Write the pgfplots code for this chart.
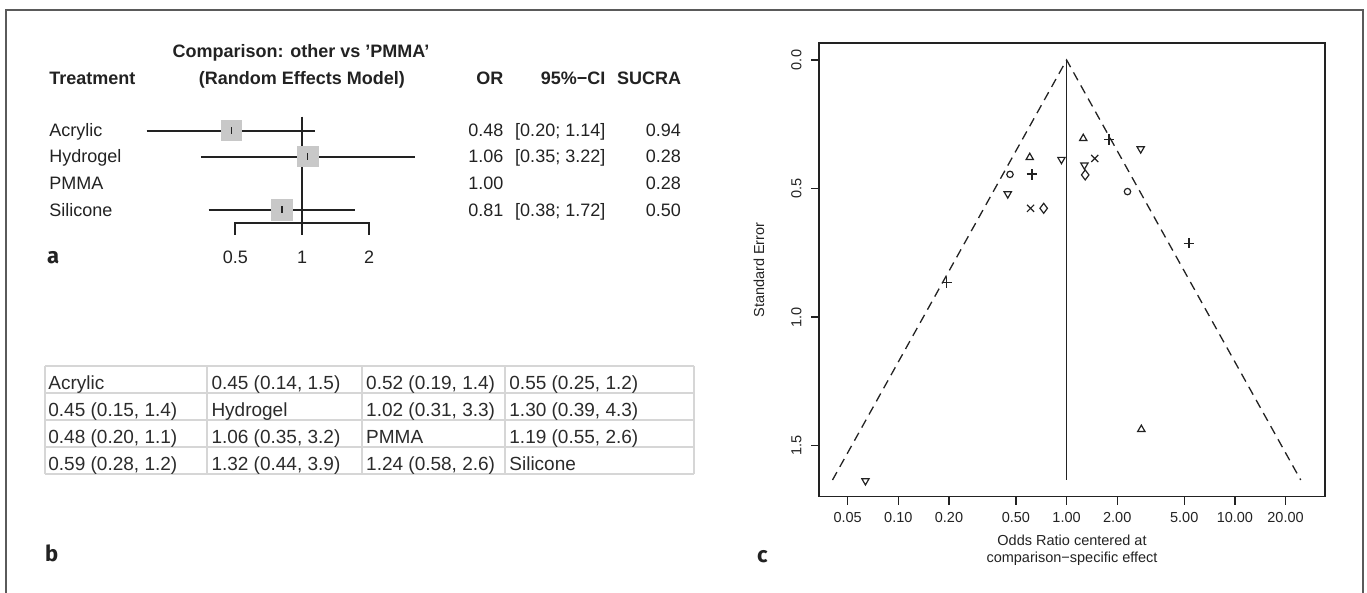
\documentclass[border=0pt]{standalone}
\usepackage{pgfplots}
\pgfplotsset{compat=1.18}
\usepackage{fontspec}
\setmainfont{Liberation Sans}
\newfontfamily\labfont{Fira Sans}
\definecolor{framecol}{HTML}{5A5A5A}
\definecolor{ink}{HTML}{222222}
\definecolor{sq}{HTML}{C8C8C8}
\definecolor{gridc}{HTML}{D6D6D6}
\definecolor{tabtext}{HTML}{2B2B2B}
\newcommand{\fa}{\fontsize{18}{21}\selectfont}
\newcommand{\fb}{\fontsize{19}{22}\selectfont}
\newcommand{\fc}{\fontsize{14.5}{17}\selectfont}
\newcommand{\fl}{\labfont\bfseries\fontsize{22}{24}\selectfont}
\begin{document}
\begin{tikzpicture}
\useasboundingbox (0,0) rectangle (1367pt,593pt);
\begin{scope}[x=1pt,y=-1pt,yshift=593pt]
% outer frame
\draw[framecol, line width=2pt] (6,593) -- (6,10) -- (1363.3,10) -- (1363.3,593);
% panel a text
\begin{scope}[every node/.style={inner sep=0pt, text=ink}]
\node[anchor=base] at (301,57.3) {\fa\bfseries Comparison: other vs ’PMMA’};
\node[anchor=base west] at (49.1,85) {\fa\bfseries Treatment};
\node[anchor=base] at (301.8,85) {\fa\bfseries (Random Effects Model)};
\node[anchor=base east] at (503.5,85) {\fa\bfseries OR};
\node[anchor=base east] at (605.5,85) {\fa\bfseries 95\%−CI};
\node[anchor=base east] at (681.2,85) {\fa\bfseries SUCRA};
\node[anchor=base west] at (49.1,136.7) {\fa Acrylic};
\node[anchor=base west] at (49.1,162.9) {\fa Hydrogel};
\node[anchor=base west] at (49.1,189.4) {\fa PMMA};
\node[anchor=base west] at (49.1,216.1) {\fa Silicone};
\node[anchor=base east] at (503.5,136.7) {\fa 0.48};
\node[anchor=base east] at (503.5,162.9) {\fa 1.06};
\node[anchor=base east] at (503.5,189.4) {\fa 1.00};
\node[anchor=base east] at (503.5,216.1) {\fa 0.81};
\node[anchor=base east] at (605.5,136.7) {\fa [0.20; 1.14]};
\node[anchor=base east] at (605.5,162.9) {\fa [0.35; 3.22]};
\node[anchor=base east] at (605.5,216.1) {\fa [0.38; 1.72]};
\node[anchor=base east] at (681.2,136.7) {\fa 0.94};
\node[anchor=base east] at (681.2,162.9) {\fa 0.28};
\node[anchor=base east] at (681.2,189.4) {\fa 0.28};
\node[anchor=base east] at (681.2,216.1) {\fa 0.50};
\node[anchor=base] at (235.3,263.3) {\fa 0.5};
\node[anchor=base] at (302.2,263.3) {\fa 1};
\node[anchor=base] at (369.2,263.3) {\fa 2};
\node[anchor=base west] at (47,263.3) {\fl a};
\node[anchor=base west] at (45,561.7) {\fl b};
\node[anchor=base west] at (757,562.7) {\fl c};
% panel c labels
\node[anchor=base] at (1072,546) {\fc Odds Ratio centered at};
\node[anchor=base] at (1072,562.5) {\fc comparison−specific effect};
\node[rotate=90] at (759,270) {\fc Standard Error};
\end{scope}
% panel b table
\foreach \yy in {366,392.7,420,447.3,474.3} \draw[gridc, line width=2pt] (45.2,\yy) -- (693.5,\yy);
\foreach \xx in {45.2,206.9,361.7,504.8,693.5} \draw[gridc, line width=2pt] (\xx,366) -- (\xx,474.3);
\begin{scope}[every node/.style={inner sep=0pt, anchor=base west, text=tabtext}]
\node at (48.2,389.3) {\fb Acrylic};
\node at (211.3,389.3) {\fb 0.45 (0.14, 1.5)};
\node at (366,389.3) {\fb 0.52 (0.19, 1.4)};
\node at (509.2,389.3) {\fb 0.55 (0.25, 1.2)};
\node at (48.2,416.3) {\fb 0.45 (0.15, 1.4)};
\node at (211.3,416.3) {\fb Hydrogel};
\node at (366,416.3) {\fb 1.02 (0.31, 3.3)};
\node at (509.2,416.3) {\fb 1.30 (0.39, 4.3)};
\node at (48.2,443.5) {\fb 0.48 (0.20, 1.1)};
\node at (211.3,443.5) {\fb 1.06 (0.35, 3.2)};
\node at (366,443.5) {\fb PMMA};
\node at (509.2,443.5) {\fb 1.19 (0.55, 2.6)};
\node at (48.2,470.6) {\fb 0.59 (0.28, 1.2)};
\node at (211.3,470.6) {\fb 1.32 (0.44, 3.9)};
\node at (366,470.6) {\fb 1.24 (0.58, 2.6)};
\node at (509.2,470.6) {\fb Silicone};
\end{scope}
\end{scope}

% panel a forest plot
\begin{axis}[at={(140pt,353pt)}, anchor=south west, scale only axis,
  width=280pt, height=140pt, xmode=log, xmin=0.18652, xmax=3.3857,
  ymin=100, ymax=240, y dir=reverse, hide axis, clip=false]
\addplot[ink, line width=1.9pt] coordinates {(1,116.7) (1,235)};
\addplot[ink, line width=1.9pt] coordinates {(0.5,235) (0.5,223.3) (2,223.3) (2,235)};
\addplot[ink, line width=1.9pt] coordinates {(0.20,130.7) (1.14,130.7)};
\addplot[ink, line width=1.9pt] coordinates {(0.35,156.7) (3.22,156.7)};
\addplot[ink, line width=1.9pt] coordinates {(0.38,210) (1.72,210)};
\addplot[sq, only marks, mark=square*, mark size=10.3pt, mark options={fill=sq, draw=sq, line width=0pt}]
  coordinates {(0.48,130.7) (1.06,156.7) (0.81,210)};
\addplot[ink, only marks, mark=|, mark size=3.5pt, mark options={ink, line width=1.3pt}]
  coordinates {(0.48,130.7) (1.06,156.7) (0.81,210)};
\end{axis}

% panel c funnel plot
\begin{axis}[at={(819.1pt,96.3pt)}, anchor=south west, scale only axis,
  width=505.9pt, height=453.7pt, xmode=log, xmin=0.03384, xmax=34.31,
  ymin=-0.0661, ymax=1.699, y dir=reverse,
  axis line style={ink, line width=1.3pt}, tick style={ink, line width=1.3pt},
  tick align=outside, major tick length=8pt, xtick pos=bottom, ytick pos=left,
  xminorticks=false, yminorticks=false,
  xtick={0.05,0.1,0.2,0.5,1,2,5,10,20},
  xticklabels={0.05,0.10,0.20,0.50,1.00,2.00,5.00,10.00,20.00},
  ytick={0,0.5,1,1.5}, yticklabels={0.0,0.5,1.0,1.5},
  ticklabel style={font=\fc, text=ink},
  xticklabel shift=4pt, yticklabel shift=6pt,
  yticklabel style={rotate=90, anchor=south}]
\addplot[ink, line width=1.3pt, dash pattern=on 9pt off 6pt] coordinates {(0.04065,1.634) (1,0) (24.60,1.634)};
\addplot[ink, line width=1.3pt] coordinates {(1,0) (1,1.634)};
\addplot[ink, only marks, mark=triangle, mark size=4.2pt, mark options={solid, ink, line width=1.2pt}] coordinates {(1.256,0.305) (0.604,0.379) (2.78,1.437)};
\addplot[ink, only marks, mark=triangle, mark size=4.2pt, mark options={solid, ink, line width=1.2pt, rotate=180}] coordinates {(2.756,0.346) (0.932,0.387) (1.276,0.409) (0.447,0.521) (0.0638,1.637)};
\addplot[ink, only marks, mark=+, mark size=5.2pt, mark options={solid, ink, line width=1.2pt}] coordinates {(1.786,0.309) (5.33,0.713) (0.194,0.865)};
\addplot[ink, only marks, mark=+, mark size=5.2pt, mark options={solid, ink, line width=2.2pt}] coordinates {(0.621,0.445)};
\addplot[ink, only marks, mark=x, mark size=5pt, mark options={solid, ink, line width=1.2pt}] coordinates {(1.47,0.383) (0.611,0.577)};
\addplot[ink, only marks, mark=diamond, mark size=5pt, mark options={solid, ink, line width=1.2pt}] coordinates {(1.29,0.447) (0.731,0.577)};
\addplot[ink, only marks, mark=o, mark size=3.2pt, mark options={solid, ink, line width=1.2pt}] coordinates {(0.461,0.445) (2.30,0.512)};
\end{axis}
\end{tikzpicture}
\end{document}
